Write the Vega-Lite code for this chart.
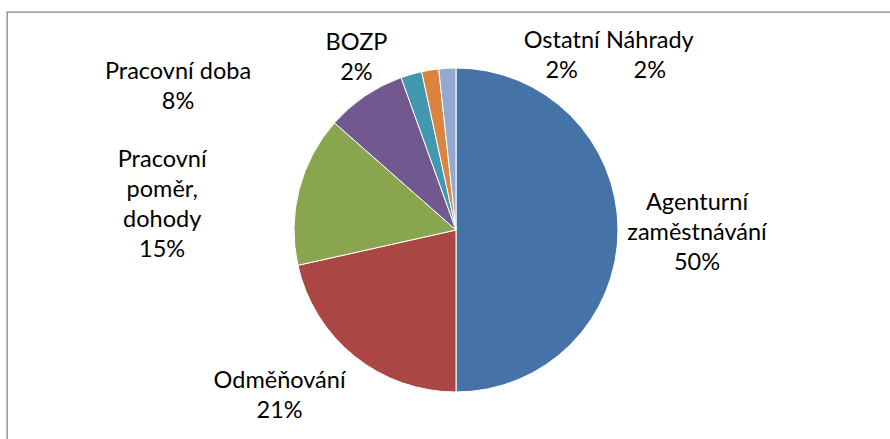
{
  "$schema": "https://vega.github.io/schema/vega-lite/v6.json",
  "width": 898,
  "height": 436,
  "autosize": {"type": "none"},
  "padding": {"left": 7, "top": 12, "right": -15, "bottom": -9},
  "background": "white",
  "view": {"stroke": "#868686", "strokeWidth": 1.3, "fill": "white"},
  "data": {
    "values": [
      {"order": 1, "name": "Agenturní zaměstnávání", "value": 50, "label": "Agenturní\nzaměstnávání\n50%"},
      {"order": 2, "name": "Odměňování", "value": 21.5, "label": "Odměňování\n21%"},
      {"order": 3, "name": "Pracovní poměr, dohody", "value": 15, "label": "Pracovní\npoměr,\ndohody\n15%"},
      {"order": 4, "name": "Pracovní doba", "value": 8, "label": "Pracovní doba\n8%"},
      {"order": 5, "name": "BOZP", "value": 2.1, "label": "BOZP\n2%"},
      {"order": 6, "name": "Ostatní", "value": 1.7, "label": "Ostatní\n2%"},
      {"order": 7, "name": "Náhrady", "value": 1.7, "label": "Náhrady\n2%"}
    ]
  },
  "encoding": {
    "theta": {"field": "value", "type": "quantitative", "stack": true},
    "order": {"field": "order", "type": "quantitative"}
  },
  "layer": [
    {
      "mark": {"type": "arc", "radius": 162, "stroke": "white", "strokeWidth": 1},
      "encoding": {
        "color": {
          "field": "name", "type": "nominal", "legend": null,
          "scale": {
            "domain": ["Agenturní zaměstnávání", "Odměňování", "Pracovní poměr, dohody", "Pracovní doba", "BOZP", "Ostatní", "Náhrady"],
            "range": ["#4572A7", "#AA4643", "#89A54E", "#71588F", "#4198AF", "#DB843D", "#93A9CF"]
          }
        }
      }
    },
    {
      "mark": {"type": "text", "radius": 241, "dx": 0, "dy": -27, "font": "Lato", "fontSize": 23.5, "lineHeight": 30, "lineBreak": "\n", "align": "center", "baseline": "middle", "color": "#000"},
      "encoding": {"text": {"condition": {"test": "datum.name === 'Agenturní zaměstnávání'", "field": "label"}, "value": ""}}
    },
    {
      "mark": {"type": "text", "radius": 239, "dx": -27, "dy": -36, "font": "Lato", "fontSize": 23.5, "lineHeight": 30, "lineBreak": "\n", "align": "center", "baseline": "middle", "color": "#000"},
      "encoding": {"text": {"condition": {"test": "datum.name === 'Odměňování'", "field": "label"}, "value": ""}}
    },
    {
      "mark": {"type": "text", "radius": 291, "dx": -12, "dy": 2, "font": "Lato", "fontSize": 23.5, "lineHeight": 30, "lineBreak": "\n", "align": "center", "baseline": "middle", "color": "#000"},
      "encoding": {"text": {"condition": {"test": "datum.name === 'Pracovní poměr, dohody'", "field": "label"}, "value": ""}}
    },
    {
      "mark": {"type": "text", "radius": 274, "dx": -124, "dy": 69, "font": "Lato", "fontSize": 23.5, "lineHeight": 30, "lineBreak": "\n", "align": "center", "baseline": "middle", "color": "#000"},
      "encoding": {"text": {"condition": {"test": "datum.name === 'Pracovní doba'", "field": "label"}, "value": ""}}
    },
    {
      "mark": {"type": "text", "radius": 194, "dx": -46, "dy": -1, "font": "Lato", "fontSize": 23.5, "lineHeight": 30, "lineBreak": "\n", "align": "center", "baseline": "middle", "color": "#000"},
      "encoding": {"text": {"condition": {"test": "datum.name === 'BOZP'", "field": "label"}, "value": ""}}
    },
    {
      "mark": {"type": "text", "radius": 190, "dx": 136, "dy": -1, "font": "Lato", "fontSize": 23.5, "lineHeight": 30, "lineBreak": "\n", "align": "center", "baseline": "middle", "color": "#000"},
      "encoding": {"text": {"condition": {"test": "datum.name === 'Ostatní'", "field": "label"}, "value": ""}}
    },
    {
      "mark": {"type": "text", "radius": 190, "dx": 204, "dy": 1, "font": "Lato", "fontSize": 23.5, "lineHeight": 30, "lineBreak": "\n", "align": "center", "baseline": "middle", "color": "#000"},
      "encoding": {"text": {"condition": {"test": "datum.name === 'Náhrady'", "field": "label"}, "value": ""}}
    }
  ]
}
